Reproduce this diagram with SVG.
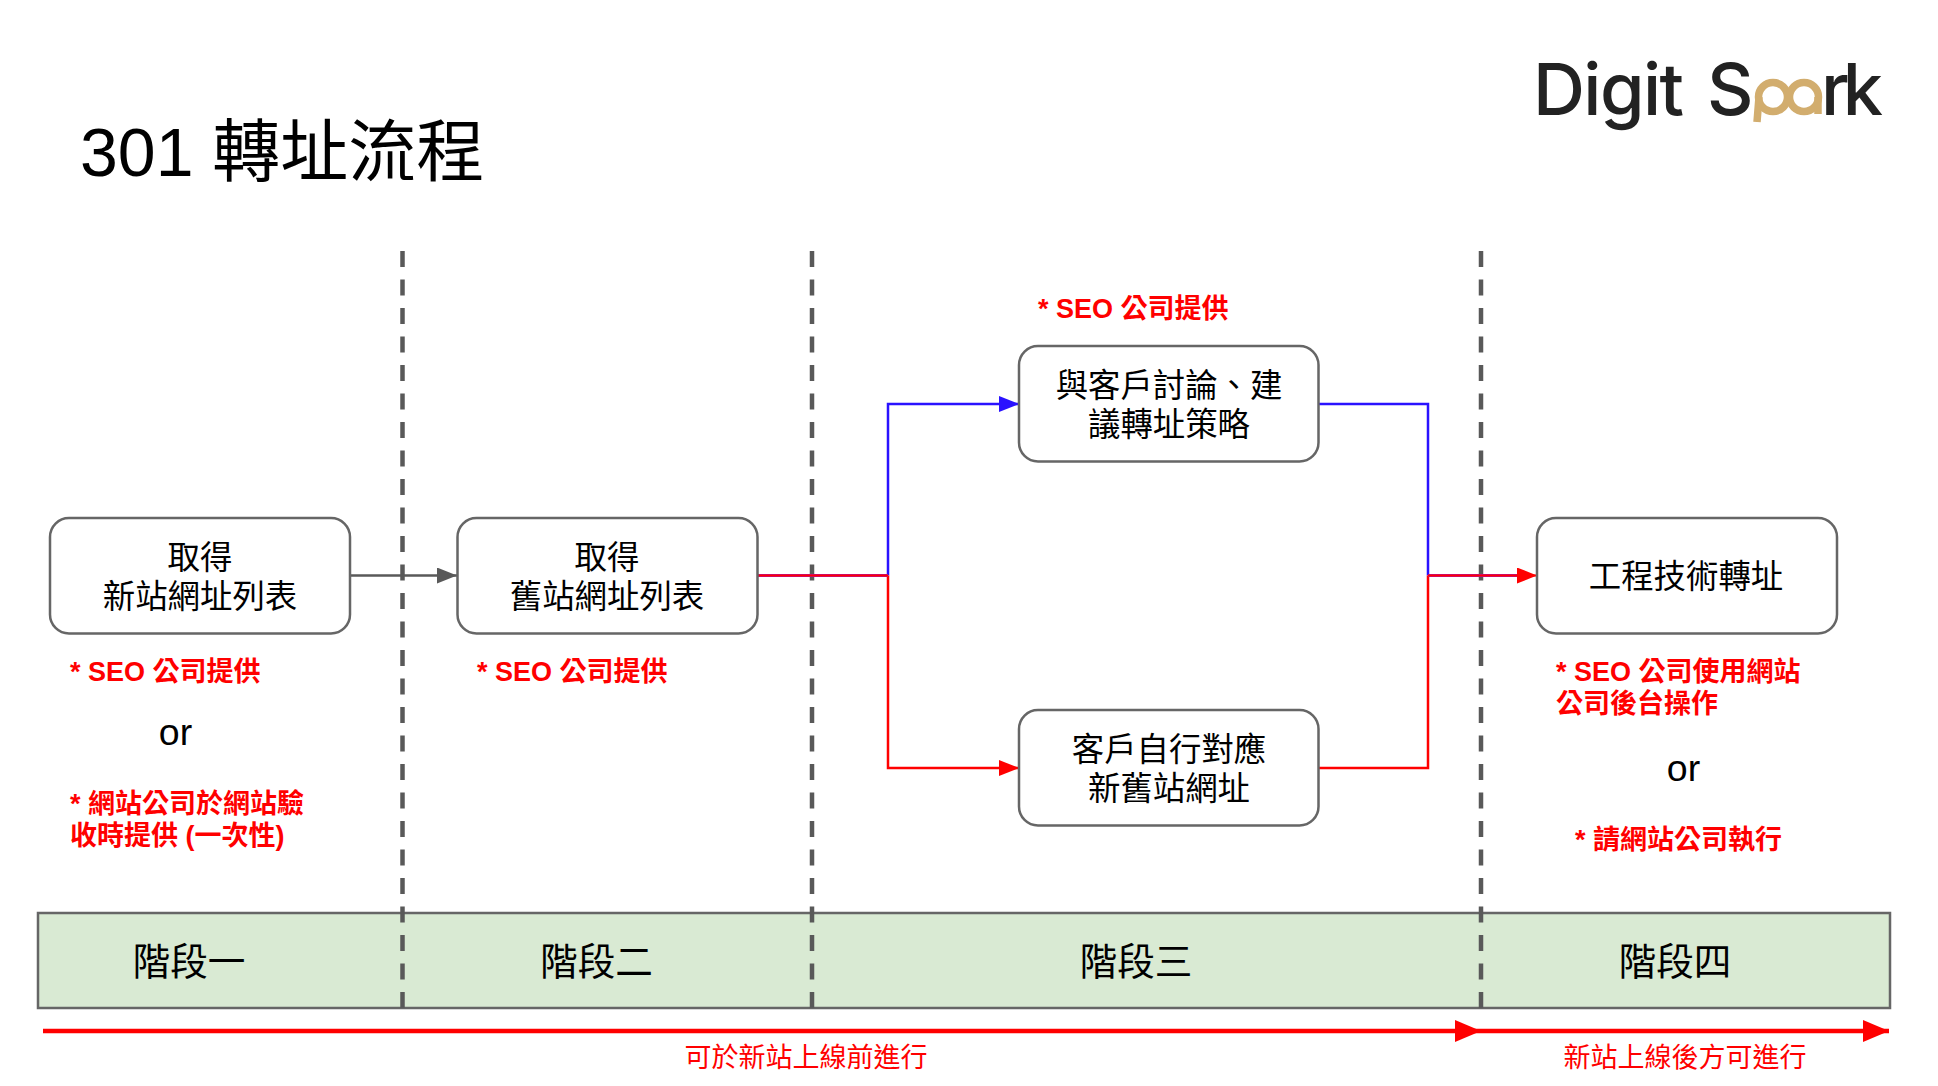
<svg xmlns="http://www.w3.org/2000/svg" width="1938" height="1086" viewBox="0 0 1938 1086">
<style>
text{font-family:"Liberation Sans","Noto Sans CJK TC",sans-serif}
.box{fill:#fff;stroke:#666;stroke-width:2.5}
.t{font-size:32.4px;fill:#000;text-anchor:middle}
.note{font-size:27px;font-weight:700;fill:#f00}
.or{font-size:37.5px;fill:#000;text-anchor:middle}
.stage{font-size:37.6px;fill:#000;text-anchor:middle}
.cap{font-size:27px;fill:#f00;text-anchor:middle}
.dash{stroke:#595959;stroke-width:4.5;stroke-dasharray:16 12.5;fill:none}
.c{fill:none;stroke-width:2.5}
.logo{font-family:Inter,"Liberation Sans",sans-serif;font-size:72px;font-weight:500;fill:#222}
</style>
<defs>
<marker id="ag" markerUnits="userSpaceOnUse" markerWidth="20" markerHeight="16" refX="20" refY="8" orient="auto"><path d="M0 0L20 8L0 16Z" fill="#595959"/></marker>
<marker id="ab" markerUnits="userSpaceOnUse" markerWidth="20" markerHeight="16" refX="20" refY="8" orient="auto"><path d="M0 0L20 8L0 16Z" fill="#2a12ff"/></marker>
<marker id="ar" markerUnits="userSpaceOnUse" markerWidth="20" markerHeight="16" refX="20" refY="8" orient="auto"><path d="M0 0L20 8L0 16Z" fill="#f00"/></marker>
<marker id="aR" markerUnits="userSpaceOnUse" markerWidth="26" markerHeight="22" refX="26" refY="11" orient="auto"><path d="M0 0L26 11L0 22Z" fill="#f00"/></marker>
</defs>
<rect width="1938" height="1086" fill="#fff"/>
<text x="80" y="176" font-size="68" fill="#000">301 轉址流程</text>
<g id="logo">
<text class="logo" x="1533" y="115" textLength="151">Digit</text>
<text class="logo" x="1707" y="115">S</text>
<text class="logo" x="1821" y="115" textLength="62">rk</text>
<g fill="none" stroke="#d2ad6e" stroke-width="7.500">
<circle cx="1773" cy="97" r="14.5"/><circle cx="1804" cy="97" r="14.5"/>
<path d="M1759 97L1757 122M1818 97V114"/>
</g>
</g>
<g id="stage-band">
<rect x="38" y="913" width="1852" height="95" fill="#d9ead3" stroke="#666" stroke-width="2.500"/>
<text class="stage" x="189" y="974.500">階段一</text>
<text class="stage" x="596.500" y="974.500">階段二</text>
<text class="stage" x="1136" y="974.500">階段三</text>
<text class="stage" x="1675" y="974.500">階段四</text>
</g>
<g id="dividers">
<path class="dash" d="M402.500 251V1008M812 251V1008M1481 251V1008"/>
</g>
<g id="connectors">
<path class="c" stroke="#595959" marker-end="url(#ag)" d="M350 575.500H457"/>
<path class="c" stroke="#2a12ff" marker-end="url(#ab)" d="M888 575.500V404H1019"/>
<path class="c" stroke="#f00" marker-end="url(#ar)" d="M888 575.500V768H1019"/>
<path class="c" stroke="#2a12ff" d="M1318 404H1428V575.500"/>
<path class="c" stroke="#f00" d="M1318 768H1428V575.500"/>
<path fill="none" stroke="#a010c0" stroke-width="3" d="M757 575.500H888M1428 575.500H1520"/>
<path fill="none" stroke="#f00" stroke-width="2.200" d="M757 575.500H888"/>
<path fill="none" stroke="#f00" stroke-width="2.200" marker-end="url(#ar)" d="M1428 575.500H1537"/>
<path stroke="#f00" stroke-width="4.500" marker-end="url(#aR)" fill="none" d="M43 1031H1481"/>
<path stroke="#f00" stroke-width="4.500" marker-end="url(#aR)" fill="none" d="M1481 1031H1889"/>
</g>
<g id="node-1"><rect class="box" x="50" y="518" width="300" height="115.500" rx="19"/>
<text class="t" x="200" y="568.500">取得</text><text class="t" x="200" y="607.500">新站網址列表</text></g>
<g id="node-2"><rect class="box" x="457.500" y="518" width="300" height="115.500" rx="19"/>
<text class="t" x="607" y="568.500">取得</text><text class="t" x="607" y="607.500">舊站網址列表</text></g>
<g id="node-3"><rect class="box" x="1019" y="346" width="299.500" height="115.500" rx="19"/>
<text class="t" x="1169" y="396.500">與客戶討論、建</text><text class="t" x="1169" y="435.500">議轉址策略</text></g>
<g id="node-4"><rect class="box" x="1019" y="710" width="299.500" height="115.500" rx="19"/>
<text class="t" x="1169" y="760.500">客戶自行對應</text><text class="t" x="1169" y="799.500">新舊站網址</text></g>
<g id="node-5"><rect class="box" x="1537" y="518" width="300" height="115.500" rx="19"/>
<text class="t" x="1686" y="587.500">工程技術轉址</text></g>
<g id="notes">
<text class="note" x="70" y="681">* SEO 公司提供</text>
<text class="or" x="175.500" y="745">or</text>
<text class="note" x="70" y="813">* 網站公司於網站驗</text>
<text class="note" x="70" y="845">收時提供 (一次性)</text>
<text class="note" x="477" y="681">* SEO 公司提供</text>
<text class="note" x="1038" y="318">* SEO 公司提供</text>
<text class="note" x="1556" y="681">* SEO 公司使用網站</text>
<text class="note" x="1556" y="713">公司後台操作</text>
<text class="or" x="1683.500" y="781">or</text>
<text class="note" x="1575" y="849">* 請網站公司執行</text>
<text class="cap" x="806" y="1066.500">可於新站上線前進行</text>
<text class="cap" x="1685" y="1066.500">新站上線後方可進行</text>
</g>
</svg>
